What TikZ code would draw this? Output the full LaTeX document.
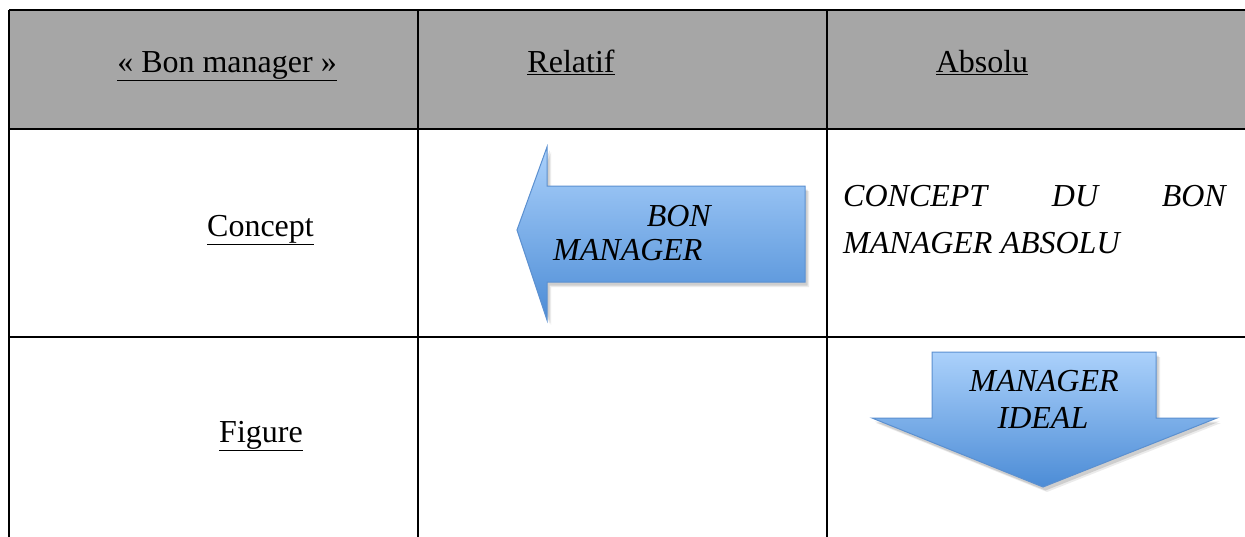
\documentclass[tikz,border=0pt]{standalone}
\usepackage{fontspec}
\setmainfont{Liberation Serif}
\usetikzlibrary{shadows}
\definecolor{hdrgray}{HTML}{A6A6A6}
\definecolor{arrtop}{HTML}{ABD1FB}
\definecolor{arrbot}{HTML}{4C8CD6}
\definecolor{arredge}{HTML}{5B90D0}
\tikzset{
  grid/.style={line width=2.3pt, black},
  txt/.style={inner sep=0pt, font=\fontsize{32}{38}\selectfont},
  itxt/.style={inner sep=0pt, font=\fontsize{32}{38}\selectfont\itshape},
  arrowshape/.style={draw=arredge, line width=1pt, top color=arrtop, bottom color=arrbot,
     general shadow={shadow xshift=4pt, shadow yshift=-5pt, opacity=0.08, fill=black},
     general shadow={shadow xshift=2.5pt, shadow yshift=-3.5pt, opacity=0.12, fill=black}},
}
\begin{document}
\begin{tikzpicture}[x=1pt,y=-1pt]
\useasboundingbox (0,0) rectangle (1245,536);
\fill[white] (0,0) rectangle (1245,536);
% header background
\fill[hdrgray] (9,10) rectangle (1250,129);
% grid lines
\coordinate (tl) at (9,10);
\coordinate (tr) at (1250,10);
\coordinate (h1l) at (9,129);
\coordinate (h1r) at (1250,129);
\coordinate (h2l) at (9,337);
\coordinate (h2r) at (1250,337);
\coordinate (bl) at (9,540);
\coordinate (c1t) at (418,10);
\coordinate (c1b) at (418,540);
\coordinate (c2t) at (827,10);
\coordinate (c2b) at (827,540);
\draw[grid] (tl) -- (tr);
\draw[grid] (h1l) -- (h1r);
\draw[grid] (h2l) -- (h2r);
\draw[grid] (tl) -- (bl);
\draw[grid] (c1t) -- (c1b);
\draw[grid] (c2t) -- (c2b);
% header texts
\node[txt, anchor=base] (hbon) at (227,72) {\underline{« Bon manager »}};
\node[txt, anchor=base] (hrel) at (571,72) {\underline{Relatif}};
\node[txt, anchor=base] (habs) at (982,72) {\underline{Absolu}};
% row labels
\node[txt, anchor=base] (concept) at (260.5,236) {\underline{Concept}};
\node[txt, anchor=base] (figure) at (261,442) {\underline{Figure}};
% left arrow
\path[arrowshape] (805,186) -- (547,186) -- (547,147) -- (517,230) -- (547,320) -- (547,282) -- (805,282) -- cycle;
\node[itxt, anchor=base east] (bon) at (711,226) {BON};
\node[itxt, anchor=base west] (mgr) at (553,260) {MANAGER};
% absolute concept text
\node[itxt, anchor=base west] (cc) at (843,206) {CONCEPT};
\node[itxt, anchor=base] (cdu) at (1075,206) {DU};
\node[itxt, anchor=base east] (cbon) at (1226,206) {BON};
\node[itxt, anchor=base west] (cmgr) at (843,253) {MANAGER ABSOLU};
% down arrow
\path[arrowshape] (932,352) -- (1156,352) -- (1156,418) -- (1217,418) -- (1043,487) -- (872,418) -- (932,418) -- cycle;
\node[itxt, anchor=base] (dmgr) at (1044,391) {MANAGER};
\node[itxt, anchor=base] (dideal) at (1043,428) {IDEAL};
\end{tikzpicture}
\end{document}
